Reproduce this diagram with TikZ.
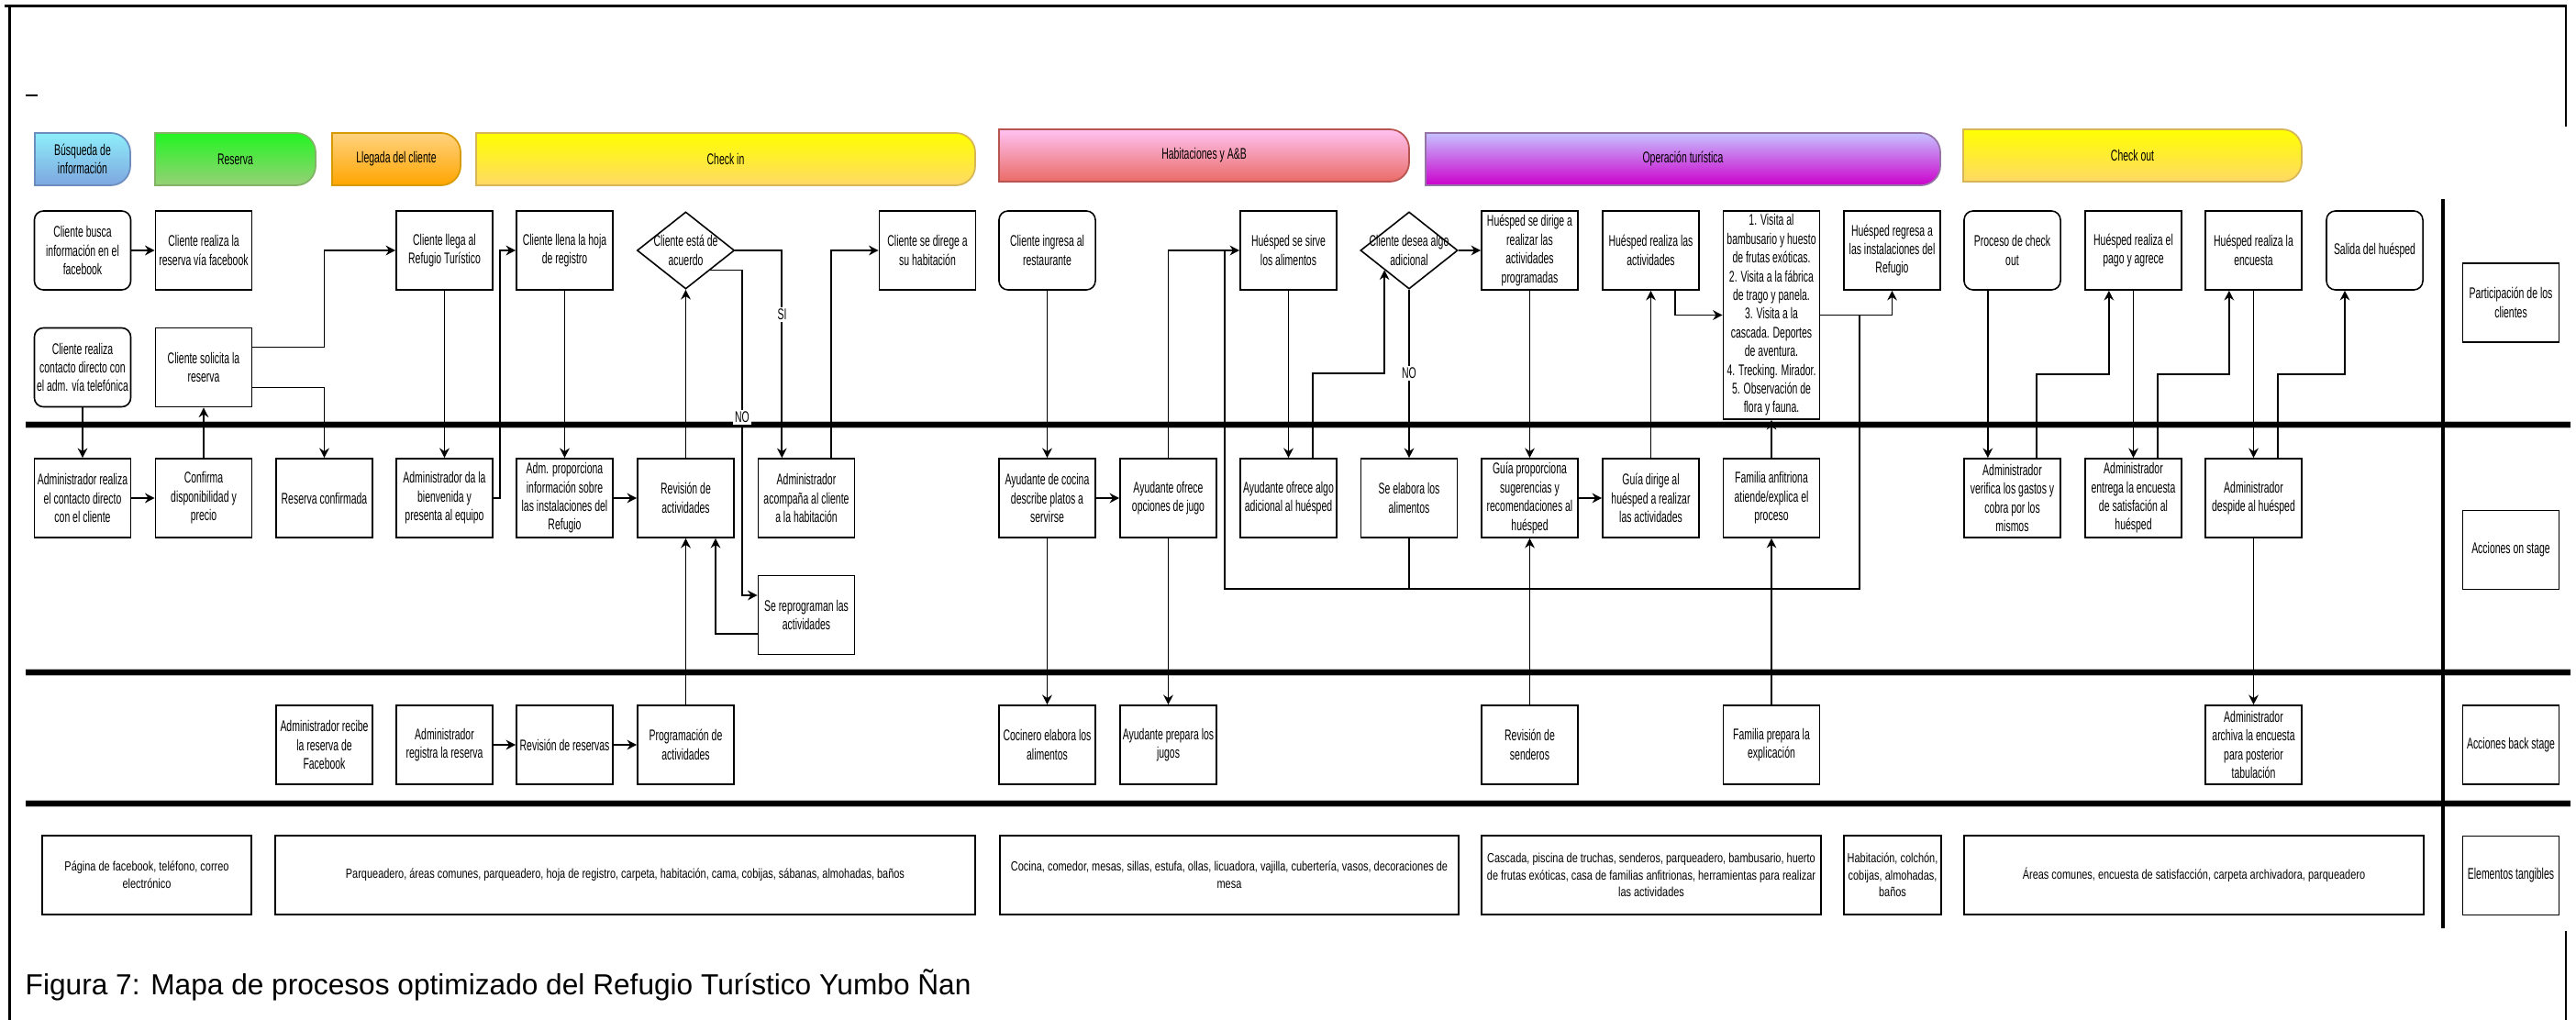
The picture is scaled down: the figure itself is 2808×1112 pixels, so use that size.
\documentclass[tikz,border=0pt]{standalone}
\usepackage{fontspec}
\setmainfont{Liberation Sans}
\newfontfamily\narrowsans[FakeStretch=0.62]{Liberation Sans}
\newfontfamily\listsans[FakeStretch=0.76]{Liberation Sans}
\usetikzlibrary{shapes.geometric,arrows.meta,calc}
\newcommand\bx{\narrowsans\fontsize{4.8pt}{5.8pt}\selectfont}
\newcommand\tx{\listsans\fontsize{4.1pt}{5.3pt}\selectfont}
% phase banner: name, x1, x2, ytop, ybottom, top colour, bottom colour, border, text
\newcommand\phasebar[9]{%
  \path[top color=#6, bottom color=#7, draw=#8, line width=0.5pt]
    (#2,#4) -- ([xshift=-6pt]#3,#4) arc[start angle=90, end angle=0, radius=6pt]
    -- ([yshift=6pt]#3,#5) arc[start angle=0, end angle=-90, radius=6pt]
    -- (#2,#5) -- cycle;
  \node[font=\bx, align=center, inner sep=0pt] (#1) at ({(#2+#3)/2},{(#4+#5)/2}) {#9};}
\definecolor{cyanT}{HTML}{8EEEFA}\definecolor{cyanB}{HTML}{7EA6E0}\definecolor{cyanD}{HTML}{6C8EBF}
\definecolor{grnT}{HTML}{22F522}\definecolor{grnB}{HTML}{97D077}\definecolor{grnD}{HTML}{82B366}
\definecolor{orgT}{HTML}{FFD27F}\definecolor{orgB}{HTML}{FFA500}\definecolor{orgD}{HTML}{D79B00}
\definecolor{ylwT}{HTML}{FFFF00}\definecolor{ylwB}{HTML}{FFD966}\definecolor{ylwD}{HTML}{D6B656}
\definecolor{pnkT}{HTML}{FFC2F2}\definecolor{pnkB}{HTML}{EA6B66}\definecolor{pnkD}{HTML}{B85450}
\definecolor{prpT}{HTML}{C6C2FF}\definecolor{prpB}{HTML}{CC00CC}\definecolor{prpD}{HTML}{9673A6}
\begin{document}
\begin{tikzpicture}[x=0.01cm, y=-0.01cm,
  stepbox/.style={draw, line width=0.45pt, rectangle, minimum width=1.05cm,
    minimum height=0.86cm, inner sep=0pt, align=center, font=\bx},
  roundbox/.style={stepbox, rounded corners=2.8pt},
  decision/.style={draw, line width=0.45pt, diamond, minimum width=1.06cm,
    minimum height=0.84cm, inner sep=0pt},
  dtext/.style={font=\bx, align=center, inner sep=0pt},
  tangible/.style={draw, line width=0.45pt, rectangle, minimum height=0.86cm,
    inner sep=0pt, align=center, font=\tx},
  lanelabel/.style={stepbox},
  arr/.style={draw, line width=0.5pt, -{Stealth[length=3pt, width=3pt]}},
  plain/.style={draw, line width=0.5pt},
  lbl/.style={font=\bx, fill=white, inner sep=0.6pt},
  lane/.style={line width=1.6pt},
  laneshade/.style={line width=2.4pt, gray!55}]
\useasboundingbox (0,0) rectangle (2808,1112);

% ---- outer frame ----
\draw[line width=1.1pt] (5,6.5) -- (2798,6.5);
\draw[line width=0.7pt] (10.5,6) -- (10.5,1112);
\draw[line width=0.7pt] (2797,6) -- (2797,138);
\draw[line width=0.7pt] (2797,1015) -- (2797,1112);
\draw[line width=0.7pt] (28,104) -- (41,104);

% ---- phase banners ----
\phasebar{ph1}{38}{142}{145}{202}{cyanT}{cyanB}{cyanD}{Búsqueda de\\información}
\phasebar{ph2}{169}{344}{145}{202}{grnT}{grnB}{grnD}{Reserva}
\phasebar{ph3}{362}{502}{145}{202}{orgT}{orgB}{orgD}{Llegada del cliente}
\phasebar{ph4}{519}{1063}{145}{202}{ylwT}{ylwB}{ylwD}{Check in}
\phasebar{ph5}{1089}{1536}{141}{198}{pnkT}{pnkB}{pnkD}{Habitaciones y A\&B}
\phasebar{ph6}{1554}{2115}{145}{202}{prpT}{prpB}{prpD}{Operación turística}
\phasebar{ph7}{2140}{2509}{141}{198}{ylwT}{ylwB}{ylwD}{Check out}

% ---- lane separators ----
\foreach \yy in {463,733,876} {
  \draw[laneshade] (28,\yy) -- (2802,\yy);
  \draw[lane] (28,\yy) -- (2802,\yy);
}
\draw[line width=1pt] (2663,217) -- (2663,1012);

% ---- lane titles ----
\node[lanelabel] (R1) at (2737,330) {Participación de los\\clientes};
\node[lanelabel] (R2) at (2737,599.5) {Acciones on stage};
\node[lanelabel] (R3) at (2737,812) {Acciones back stage};
\node[lanelabel] (R4) at (2737,954.5) {Elementos tangibles};

% ---- customer participation ----
\node[roundbox] (A1) at (90,273) {Cliente busca\\información en el\\facebook};
\node[stepbox] (A2) at (222,273) {Cliente realiza la\\reserva vía facebook};
\node[roundbox] (A3) at (90,400.5) {Cliente realiza\\contacto directo con\\el adm. vía telefónica};
\node[stepbox] (A4) at (222,400.5) {Cliente solicita la\\reserva};
\node[stepbox] (A5) at (484.5,273) {Cliente llega al\\Refugio Turístico};
\node[stepbox] (A6) at (615.5,273) {Cliente llena la hoja\\de registro};
\node[decision] (Q1) at (747.5,273) {};
\node[dtext] (Q1t) at (Q1.center) {Cliente está de\\acuerdo};
\node[stepbox] (A7) at (1011,273) {Cliente se direge a\\su habitación};
\node[roundbox] (A8) at (1141.5,273) {Cliente ingresa al\\restaurante};
\node[stepbox] (A9) at (1404.5,273) {Huésped se sirve\\los alimentos};
\node[decision] (Q2) at (1536,273) {};
\node[dtext] (Q2t) at (Q2.center) {Cliente desea algo\\adicional};
\node[stepbox] (A10) at (1667.5,273) {Huésped se dirige a\\realizar las\\actividades\\programadas};
\node[stepbox] (A11) at (1799.5,273) {Huésped realiza las\\actividades};
\node[stepbox, minimum height=2.27cm] (A12) at (1931,343.5) {1. Visita al\\bambusario y huesto\\de frutas exóticas.\\2. Visita a la fábrica\\de trago y panela.\\3. Visita a la\\cascada. Deportes\\de aventura.\\4. Trecking. Mirador.\\5. Observación de\\flora y fauna.};
\node[stepbox] (A13) at (2062.5,273) {Huésped regresa a\\las instalaciones del\\Refugio};
\node[roundbox] (A14) at (2193.5,273) {Proceso de check\\out};
\node[stepbox] (A15) at (2325.5,273) {Huésped realiza el\\pago y agrece};
\node[stepbox] (A16) at (2456.5,273) {Huésped realiza la\\encuesta};
\node[roundbox] (A17) at (2588.5,273) {Salida del huésped};

% ---- on stage actions ----
\node[stepbox] (B1) at (90,543) {Administrador realiza\\el contacto directo\\con el cliente};
\node[stepbox] (B2) at (222,543) {Confirma\\disponibilidad y\\precio};
\node[stepbox] (B3) at (353.5,543) {Reserva confirmada};
\node[stepbox] (B4) at (484.5,543) {Administrador da la\\bienvenida y\\presenta al equipo};
\node[stepbox] (B5) at (615.5,543) {Adm. proporciona\\información sobre\\las instalaciones del\\Refugio};
\node[stepbox] (B6) at (747.5,543) {Revisión de\\actividades};
\node[stepbox] (B7) at (879,543) {Administrador\\acompaña al cliente\\a la habitación};
\node[stepbox] (B8) at (879,670.5) {Se reprograman las\\actividades};
\node[stepbox] (B9) at (1141.5,543) {Ayudante de cocina\\describe platos a\\servirse};
\node[stepbox] (B10) at (1273.5,543) {Ayudante ofrece\\opciones de jugo};
\node[stepbox] (B11) at (1404.5,543) {Ayudante ofrece algo\\adicional al huésped};
\node[stepbox] (B12) at (1536,543) {Se elabora los\\alimentos};
\node[stepbox] (B13) at (1667.5,543) {Guía proporciona\\sugerencias y\\recomendaciones al\\huésped};
\node[stepbox] (B14) at (1799.5,543) {Guía dirige al\\huésped a realizar\\las actividades};
\node[stepbox] (B15) at (1931,543) {Familia anfitriona\\atiende/explica el\\proceso};
\node[stepbox] (B16) at (2193.5,543) {Administrador\\verifica los gastos y\\cobra por los\\mismos};
\node[stepbox] (B17) at (2325.5,543) {Administrador\\entrega la encuesta\\de satisfación al\\huésped};
\node[stepbox] (B18) at (2456.5,543) {Administrador\\despide al huésped};

% ---- back stage actions ----
\node[stepbox] (C1) at (353.5,812) {Administrador recibe\\la reserva de\\Facebook};
\node[stepbox] (C2) at (484.5,812) {Administrador\\registra la reserva};
\node[stepbox] (C3) at (615.5,812) {Revisión de reservas};
\node[stepbox] (C4) at (747.5,812) {Programación de\\actividades};
\node[stepbox] (C5) at (1141.5,812) {Cocinero elabora los\\alimentos};
\node[stepbox] (C6) at (1273.5,812) {Ayudante prepara los\\jugos};
\node[stepbox] (C7) at (1667.5,812) {Revisión de\\senderos};
\node[stepbox] (C8) at (1931,812) {Familia prepara la\\explicación};
\node[stepbox] (C9) at (2456.5,812) {Administrador\\archiva la encuesta\\para posterior\\tabulación};

% ---- tangible elements ----
\node[tangible, minimum width=2.28cm] (D1) at (160,954) {Página de facebook, teléfono, correo\\electrónico};
\node[tangible, minimum width=7.63cm] (D2) at (681.5,954) {Parqueadero, áreas comunes, parqueadero, hoja de registro, carpeta, habitación, cama, cobijas, sábanas, almohadas, baños};
\node[tangible, minimum width=5.0cm] (D3) at (1340,954) {Cocina, comedor, mesas, sillas, estufa, ollas, licuadora, vajilla, cubertería, vasos, decoraciones de\\mesa};
\node[tangible, minimum width=3.7cm] (D4) at (1800,954) {Cascada, piscina de truchas, senderos, parqueadero, bambusario, huerto\\de frutas exóticas, casa de familias anfitrionas, herramientas para realizar\\las actividades};
\node[tangible, minimum width=1.06cm] (D5) at (2063,954) {Habitación, colchón,\\cobijas, almohadas,\\baños};
\node[tangible, minimum width=5.01cm] (D6) at (2391.5,954) {Áreas comunes, encuesta de satisfacción, carpeta archivadora, parqueadero};

% ---- flows: search and booking ----
\draw[arr] (A1.east) -- (A2.west);
\draw[arr] (A3.south) -- (B1.north);
\draw[arr] (B1.east) -- (B2.west);
\draw[arr] (B2.north) -- (A4.south);
\draw[arr] ($(A4.north east)!.25!(A4.south east)$) -| (B3.north |- A5.west) -- (A5.west);
\draw[arr] ($(A4.north east)!.75!(A4.south east)$) -| (B3.north);
\draw[arr] (C2.east) -- (C3.west);
\draw[arr] (C3.east) -- (C4.west);

% ---- flows: arrival and check in ----
\draw[arr] (A5.south) -- (B4.north);
\draw[arr] (B4.east) -| (545,400) |- (A6.west);
\draw[arr] (A6.south) -- (B5.north);
\draw[arr] (B5.east) -- (B6.west);
\draw[arr] (B6.north) -- (Q1.south);
\draw[arr] (C4.north) -- (B6.south);
\draw[arr] (Q1.south east) -| (809,649) -- (B8.west |- 0,649);
\draw[arr] (Q1.east) -| ($(B7.north west)!.25!(B7.north east)$);
\draw[arr] ($(B7.north west)!.75!(B7.north east)$) |- (A7.west);
\draw[arr] (B8.west |- 0,691) -| (780,0 |- B6.south);
\node[lbl] (no1) at (809,455) {NO};
\node[lbl] (si1) at (852.5,343) {SI};

% ---- flows: rooms and food ----
\draw[arr] (A8.south) -- (B9.north);
\draw[arr] (B9.east) -- (B10.west);
\draw[arr] (B9.south) -- (C5.north);
\draw[arr] (B10.south) -- (C6.north);
\draw[arr] (B10.north) |- (A9.west);
\draw[arr] (A9.south) -- (B11.north);
\draw[arr] ($(B11.north west)!.75!(B11.north east)$) |- (Q2.south west |- 0,407) -- (Q2.south west);
\draw[arr] (Q2.south) -- (B12.north);
\node[lbl] (no2) at (1536,407) {NO};

% ---- flows: tourist operation ----
\draw[arr] (Q2.east) -- (A10.west);
\draw[arr] (A10.south) -- (B13.north);
\draw[arr] (C7.north) -- (B13.south);
\draw[arr] (B13.east) -- (B14.west);
\draw[arr] (B14.north) -- (A11.south);
\draw[arr] ($(A11.south west)!.75!(A11.south east)$) |- (A12.west);
\draw[arr] (C8.north) -- (B15.south);
\draw[arr] (B15.north) -- (A12.south);
\draw[arr] (A12.east) -| (A13.south);
\coordinate (back1) at (2027,0 |- A12.east);
\coordinate (back2) at (1335,0 |- A9.west);
\draw[plain] (back1) |- (back2 |- 0,642) -- (back2);
\draw[plain] (B12.south) -- (B12.south |- 0,642);

% ---- flows: check out ----
\coordinate (a15in) at ($(A15.south west)!.25!(A15.south east)$);
\coordinate (a16in) at ($(A16.south west)!.25!(A16.south east)$);
\coordinate (a17in) at (2556,0 |- A17.south);
\draw[arr] ($(A14.south west)!.25!(A14.south east)$) -- ($(B16.north west)!.25!(B16.north east)$);
\draw[arr] ($(B16.north west)!.75!(B16.north east)$) |- (a15in |- 0,408) -- (a15in);
\draw[arr] (A15.south) -- (B17.north);
\draw[arr] ($(B17.north west)!.75!(B17.north east)$) |- (a16in |- 0,408) -- (a16in);
\draw[arr] (A16.south) -- (B18.north);
\draw[arr] ($(B18.north west)!.75!(B18.north east)$) |- (a17in |- 0,408) -- (a17in);
\draw[arr] (B18.south) -- (C9.north);

% ---- caption ----
\node[anchor=west, font=\fontsize{9pt}{11pt}\selectfont, inner sep=0pt] (cap) at (27,1074)
  {Figura 7: Mapa de procesos optimizado del Refugio Turístico Yumbo Ñan};
\end{tikzpicture}
\end{document}
